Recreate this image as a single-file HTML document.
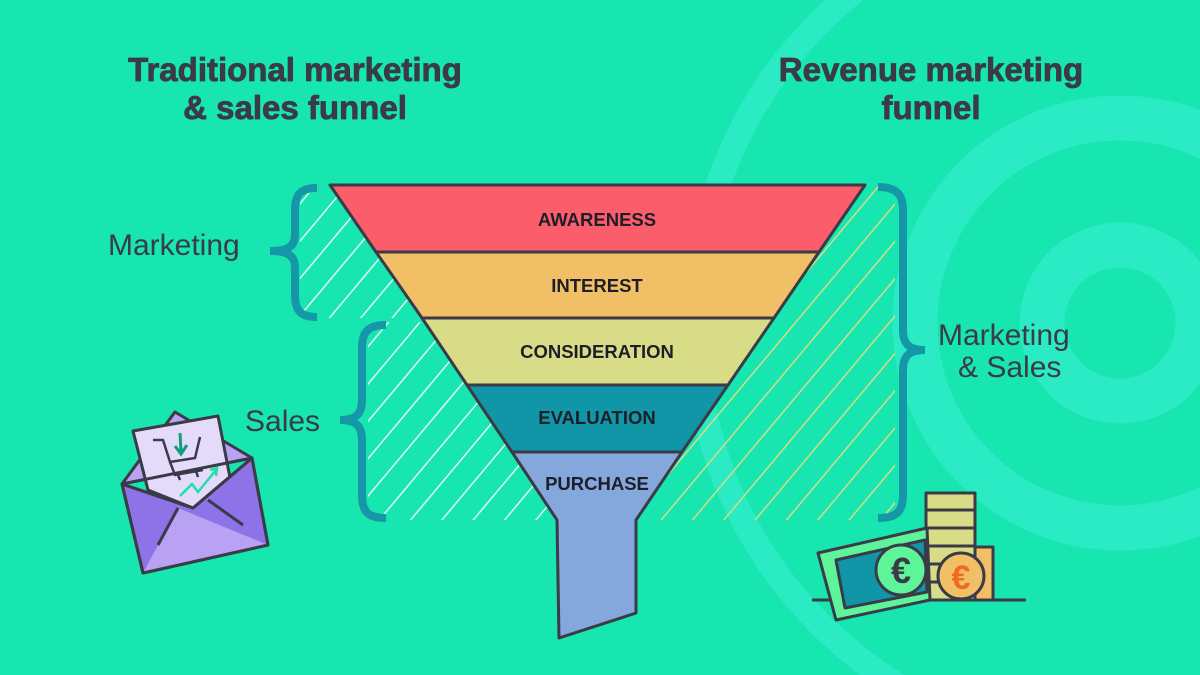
<!DOCTYPE html>
<html><head><meta charset="utf-8"><style>
html,body{margin:0;padding:0;background:#17e6b0;width:1200px;height:675px;overflow:hidden;}
svg{display:block}
text{font-family:"Liberation Sans",sans-serif;fill:#3b3a47}
</style></head><body>
<svg width="1200" height="675" viewBox="0 0 1200 675" xmlns="http://www.w3.org/2000/svg">
<defs>
<pattern id="hw" patternUnits="userSpaceOnUse" width="24" height="24" patternTransform="rotate(40)">
<line x1="0" y1="0" x2="0" y2="24" stroke="#dff7f2" stroke-width="3"/>
</pattern>
<pattern id="hy" patternUnits="userSpaceOnUse" width="24" height="24" patternTransform="rotate(40)">
<line x1="0" y1="0" x2="0" y2="24" stroke="#d6dc86" stroke-width="3"/>
</pattern>
</defs>
<rect width="1200" height="675" fill="#17e6b0"/>
<!-- background rings -->
<g fill="none" stroke="#2aebc3">
<circle cx="1120" cy="323" r="78" stroke-width="45"/>
<circle cx="1120" cy="323" r="205" stroke-width="45"/>
<circle cx="1120" cy="323" r="425" stroke-width="25"/>
</g>
<!-- hatched areas -->
<polygon points="300,185 330,185 422,318 300,318" fill="url(#hw)"/>
<polygon points="368,322 425,322 557,520 368,520" fill="url(#hw)"/>
<polygon points="865,185 895,185 895,520 636,520" fill="url(#hy)"/>
<!-- funnel -->
<g stroke="#3b3a47" stroke-width="3" stroke-linejoin="round">
<polygon points="330,185 865,185 819,252 376,252" fill="#fb5d6a"/>
<polygon points="376,252 819,252 774,318 422,318" fill="#f1c066"/>
<polygon points="422,318 774,318 728,385 467,385" fill="#d9dc86"/>
<polygon points="467,385 728,385 682,452 512,452" fill="#1196a8"/>
<polygon points="512,452 682,452 636,520 636,613 559,638 557,520" fill="#84a8dc"/>
</g>
<g font-weight="bold" font-size="18.5" text-anchor="middle">
<text x="597" y="226" style="fill:#1e1e28">AWARENESS</text>
<text x="597" y="292" style="fill:#1e1e28">INTEREST</text>
<text x="597" y="358" style="fill:#1e1e28">CONSIDERATION</text>
<text x="597" y="424" style="fill:#1e1e28">EVALUATION</text>
<text x="597" y="490" style="fill:#1e1e28">PURCHASE</text>
</g>
<!-- braces -->
<g fill="none" stroke="#1597a8" stroke-width="8">
<path d="M317,188 C300,188 295,195 295,210 L295,235 C295,248 285,251 270,251 C285,251 295,254 295,267 L295,295 C295,310 300,317 317,317"/>
<path d="M386,325 C368,325 362,332 362,348 L362,400 C362,415 355,420 340,420 C355,420 362,425 362,440 L362,495 C362,512 368,518 386,518"/>
<path d="M878,187 C896,187 903,194 903,210 L903,330 C903,345 910,350 925,350 C910,350 903,355 903,370 L903,495 C903,512 896,518 878,518"/>
</g>
<!-- titles -->
<g font-weight="bold" font-size="33" text-anchor="middle" stroke="#3b3a47" stroke-width="0.8">
<text x="295" y="81">Traditional marketing</text>
<text x="295" y="119">&amp; sales funnel</text>
<text x="931" y="81">Revenue marketing</text>
<text x="931" y="119">funnel</text>
</g>
<g font-size="30">
<text x="108" y="255">Marketing</text>
<text x="245" y="431">Sales</text>
<text x="938" y="345">Marketing</text>
<text x="958" y="377">&amp; Sales</text>
</g>
<!-- envelope -->
<g stroke="#3b3a47" stroke-width="3" stroke-linejoin="round">
<polygon points="122,484 175,412 252,458" fill="#b9a2f3"/>
<polygon points="133,431 218,416 233,493 193,508 148,490" fill="#e4dbfb"/>
<polygon points="122,484 193,508 252,458 268,545 143,573" fill="#8e72e8"/>
<polygon points="143,573 178,508 268,545" fill="#b9a2f3" stroke="none"/>
<polygon points="122,484 252,458 268,545 143,573" fill="none"/>
<polyline points="122,484 193,508 252,458" fill="none"/>
<line x1="158" y1="545" x2="178" y2="508"/>
<line x1="208" y1="500" x2="243" y2="525"/>
</g>
<g fill="none" stroke="#3b3a47" stroke-width="2.5">
<path d="M153,440 L163,440 L170,462 L195,458 L200,437"/>
<path d="M170,462 L175,475 L203,470"/>
<line x1="178" y1="475" x2="180" y2="480"/><line x1="196" y1="471" x2="198" y2="477"/>
</g>
<path d="M180,433 L181,452 M175,446 L181,454 L187,445" stroke="#0fa07a" stroke-width="3" fill="none"/>
<path d="M180,496 L192,484 L198,492 L216,470 M210,470 L217,468 L216,476" stroke="#1fe0aa" stroke-width="2.5" fill="none"/>
<!-- money -->
<line x1="812" y1="600" x2="1026" y2="600" stroke="#3b3a47" stroke-width="3"/>
<g stroke="#3b3a47" stroke-width="3" stroke-linejoin="round">
<rect x="926" y="493" width="49" height="107" fill="#d9dc86"/>
<line x1="926" y1="510" x2="975" y2="510"/><line x1="926" y1="528" x2="975" y2="528"/>
<line x1="926" y1="546" x2="975" y2="546"/><line x1="926" y1="564" x2="975" y2="564"/><line x1="926" y1="582" x2="975" y2="582"/>
<rect x="975" y="547" width="18" height="53" fill="#f1c066"/>
<polygon points="818,553 927,528 930,600 836,620" fill="#5ef59a"/>
<polygon points="836,560 925,540 927,592 845,608" fill="#1196a8"/>
<circle cx="901" cy="570" r="25" fill="#5ef59a"/>
<circle cx="961" cy="576" r="23" fill="#f1c066"/>
</g>
<text x="901" y="583" font-size="36" font-weight="bold" text-anchor="middle" style="fill:#3b3a47">€</text>
<text x="961" y="589" font-size="34" font-weight="bold" text-anchor="middle" style="fill:#f06a22">€</text>
</svg>
</body></html>
